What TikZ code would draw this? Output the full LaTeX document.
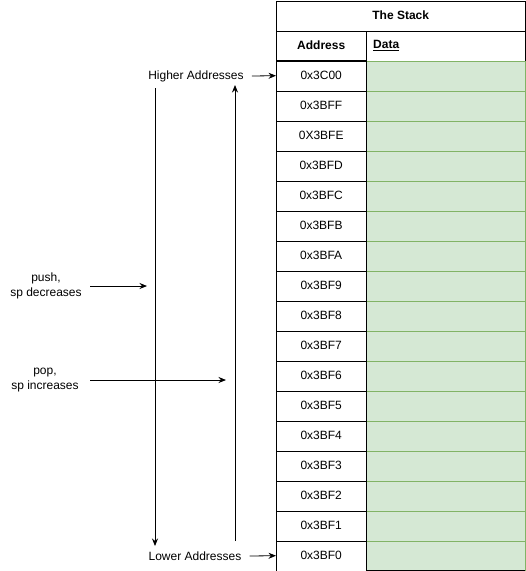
\documentclass[tikz,border=0pt]{standalone}
\usepackage{fontspec}
\setmainfont{Liberation Sans}
\usetikzlibrary{arrows.meta}
\definecolor{cellfill}{HTML}{D5E8D4}
\definecolor{cellline}{HTML}{82B366}
\begin{document}
\begin{tikzpicture}[x=1pt,y=-1pt,
  txt/.style={font=\fontsize{12}{15}\selectfont, align=center, inner sep=0pt},
  addr/.style={draw=black, fill=white, minimum width=90pt, minimum height=30pt, anchor=north west, inner sep=0pt, font=\fontsize{12}{14}\selectfont},
  datacell/.style={draw=cellline, fill=cellfill, minimum width=159pt, minimum height=30pt, anchor=north west, inner sep=0pt},
  arr/.style={-{Stealth[length=7.5pt,width=6pt]}, line width=0.8pt}
]
\useasboundingbox (0,0) rectangle (526,571);
% header
\node[draw=black, fill=white, minimum width=249pt, minimum height=30pt, anchor=north west, inner sep=0pt, font=\fontsize{12}{14}\selectfont\bfseries] (title) at (276,0.5) {The Stack};
\node[addr, font=\fontsize{12}{14}\selectfont\bfseries] (haddr) at (276,30.5) {Address};
\node[draw=black, fill=white, minimum width=159pt, minimum height=30pt, anchor=north west, inner sep=0pt] (hdata) at (366,30.5) {};
\node[anchor=west, inner sep=0pt, font=\fontsize{12}{14}\selectfont\bfseries] (hdatatxt) at (373,45.5) {\underline{Data}};
% rows
\foreach \a [count=\i from 0] in {0x3C00,0x3BFF,0X3BFE,0x3BFD,0x3BFC,0x3BFB,0x3BFA,0x3BF9,0x3BF8,0x3BF7,0x3BF6,0x3BF5,0x3BF4,0x3BF3,0x3BF2,0x3BF1,0x3BF0}{
  \node[datacell] (d\i) at (366,60.5+30*\i) {};
  \node[addr] (r\i) at (276,60.5+30*\i) {\a};
}
\draw[black] (276,60.5) -- (366,60.5);
\draw[black] (366,570.5) -- (525,570.5);
% labels
\node[txt] (hi) at (196,76) {Higher Addresses};
\node[txt] (lo) at (195,556) {Lower Addresses};
\draw[arr] (hi.east) ++(8,0) coordinate (hiS) -- (r0.west);
\draw[arr] (lo.east) ++(8,0) coordinate (loS) -- (r16.west);
% vertical lines
\coordinate (v1t) at (155,88);
\coordinate (v1b) at (155,546);
\coordinate (v2t) at (235,85);
\coordinate (v2b) at (235,541);
\draw[arr] (v1t) -- (v1b);
\draw[arr] (v2b) -- (v2t);
% push / pop
\node[txt] (push) at (46,286) {push,\\sp decreases};
\node[txt] (pop) at (45,380) {pop,\\sp increases};
\coordinate (pushE) at (147,286);
\coordinate (popE) at (226,380);
\draw[arr] (90,286) coordinate (pushS) -- (pushE);
\draw[arr] (90,380) coordinate (popS) -- (popE);
\end{tikzpicture}
\end{document}
